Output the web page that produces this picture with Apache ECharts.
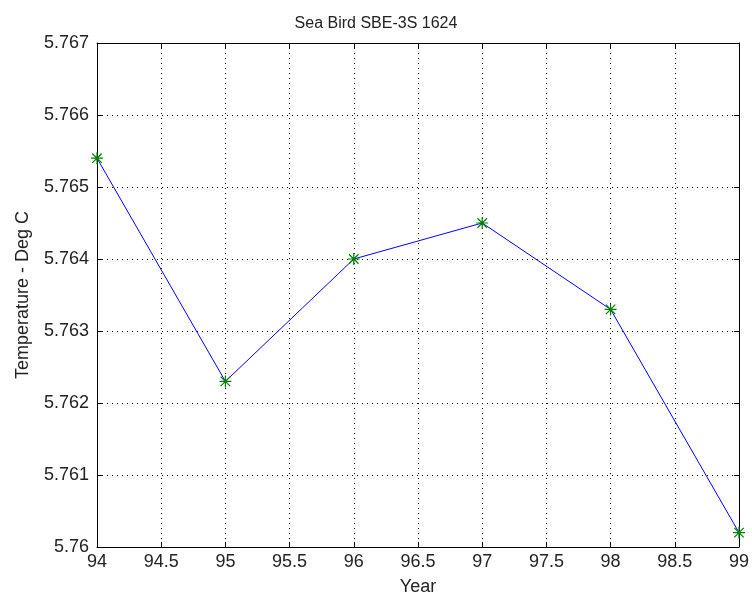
<!DOCTYPE html>
<html><head><meta charset="utf-8">
<script src="https://cdn.jsdelivr.net/npm/echarts@6/dist/echarts.min.js"></script>
<style>html,body{margin:0;padding:0;background:#fff}#c{width:752px;height:601px}</style>
</head><body><div id="c"></div>
<script>
const years = [94, 95, 96, 97, 98, 99];
const temps = [5.7654, 5.7623, 5.7640, 5.7645, 5.7633, 5.7602];
const title = 'Sea Bird SBE-3S 1624';
const xName = 'Year';
const yName = 'Temperature - Deg C';

const star = 'path://M9 0H11V20H9Z M0 9H20V11H0Z M1.4 2.8L2.8 1.4L18.6 17.2L17.2 18.6Z M17.2 1.4L18.6 2.8L2.8 18.6L1.4 17.2Z';
const font = 'Liberation Sans, Arial, sans-serif';
const chart = echarts.init(document.getElementById('c'));
const fmtY = v => parseFloat(v.toFixed(3)).toString();
const common = {
  axisLine: {show: true, onZero: false, lineStyle: {color: '#000', width: 1}},
  axisTick: {show: true, inside: true, length: 5, lineStyle: {color: '#000'}},
};
chart.setOption({
  animation: false,
  title: {text: title, left: 'center', top: 11, textStyle: {fontFamily: font, fontSize: 16, fontWeight: 'normal', color: '#222'}},
  grid: {left: 97, top: 43, right: 8, bottom: 49, containLabel: false},
  xAxis: [
    Object.assign({type: 'value', min: 94, max: 99, interval: 0.5, position: 'bottom',
      name: xName, nameLocation: 'middle', nameGap: 31,
      nameTextStyle: {fontFamily: font, fontSize: 18, color: '#222'},
      axisLabel: {fontFamily: font, fontSize: 18, color: '#222', margin: 6},
      splitLine: {show: true, lineStyle: {color: '#000', type: [1, 4], width: 1}}}, common),
    Object.assign({type: 'value', min: 94, max: 99, interval: 0.5, position: 'top',
      axisLabel: {show: false}, splitLine: {show: false}}, common)
  ],
  yAxis: [
    Object.assign({type: 'value', min: 5.76, max: 5.767, interval: 0.001, position: 'left',
      name: yName, nameLocation: 'middle', nameGap: 65, nameRotate: 90,
      nameTextStyle: {fontFamily: font, fontSize: 18, color: '#222'},
      axisLabel: {fontFamily: font, fontSize: 18, color: '#222', margin: 8, formatter: fmtY},
      splitLine: {show: true, lineStyle: {color: '#000', type: [1, 4], width: 1}}}, common),
    Object.assign({type: 'value', min: 5.76, max: 5.767, interval: 0.001, position: 'right',
      axisLabel: {show: false}, splitLine: {show: false}}, common)
  ],
  series: [{
    type: 'line',
    data: years.map((y, i) => [y, temps[i]]),
    lineStyle: {color: '#0000ff', width: 1},
    itemStyle: {color: '#008000'},
    symbol: star, symbolSize: 12, showSymbol: true,
    clip: false
  }]
});
</script></body></html>
